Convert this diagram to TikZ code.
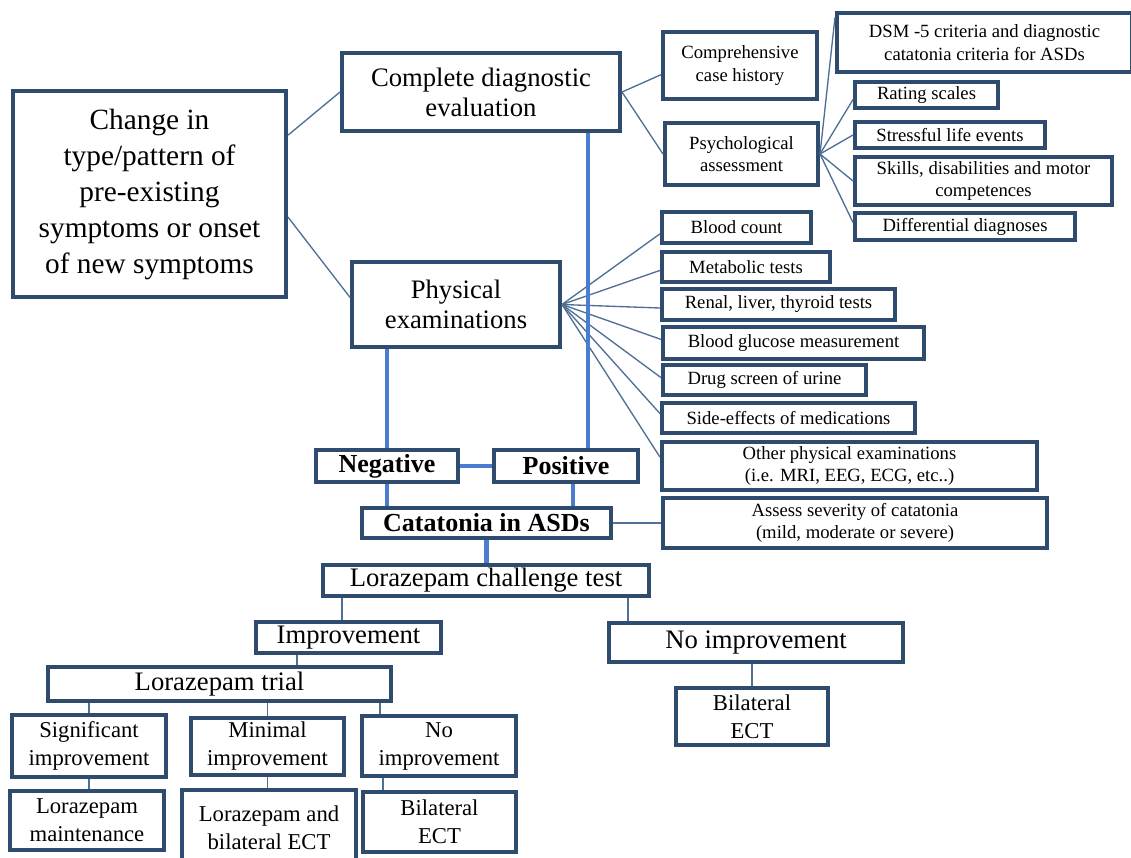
\documentclass[tikz,border=0pt]{standalone}
\usepackage{fontspec}
\setmainfont{Liberation Serif}
\usetikzlibrary{calc}
\definecolor{bord}{HTML}{2F4B6E}
\definecolor{thinc}{HTML}{4F6F96}
\definecolor{bblue}{HTML}{4A7DD0}
\newcommand{\mkbox}[6]{\node[#6, minimum width={(#4-#2)*0.75pt}, minimum height={(#5-#3)*0.75pt}] (#1) at ({(#2+#4)/2},{(#3+#5)/2})}
\newcommand{\lp}[2]{($(#1.north west)!#2!(#1.south west)$)}
\tikzset{
  box/.style={draw=bord, line width=3pt, fill=white, inner sep=0pt, align=center, text=black},
  lg/.style={box, font=\fontsize{22}{27}\selectfont},
  md/.style={box, font=\fontsize{20}{22.5}\selectfont},
  bd/.style={box, font=\fontsize{19.5}{22}\selectfont\bfseries},
  sm/.style={box, font=\fontsize{17}{21}\selectfont},
  xs/.style={box, font=\fontsize{14}{17}\selectfont},
  thinline/.style={draw=thinc, line width=1pt},
  blueline/.style={draw=bblue, line width=3.5pt}
}
\begin{document}
\begin{tikzpicture}[x=0.75pt, y=-0.75pt]
\useasboundingbox[fill=white] (0,0) rectangle (1131,857);
% nodes
\mkbox{left}{13}{91}{286}{297}{lg} {Change in\\type/pattern of\\pre-existing\\symptoms or onset\\of new symptoms};
\mkbox{complete}{342}{53}{620}{131}{md} {Complete diagnostic\\evaluation};
\mkbox{phys}{352}{262}{560}{347}{md} {Physical\\examinations};
\mkbox{comp}{663}{32}{817}{99}{xs} {Comprehensive\\case history};
\mkbox{psych}{665}{123}{818}{185}{xs} {Psychological\\assessment};
\mkbox{dsm}{837}{13}{1132}{72}{xs} {DSM -5 criteria and diagnostic\\catatonia criteria for ASDs};
\mkbox{rating}{855}{82}{998}{108}{xs} {Rating scales};
\mkbox{stress}{855}{122}{1045}{148}{xs} {Stressful life events};
\mkbox{skills}{855}{157}{1112}{205}{xs} {Skills, disabilities and motor\\competences};
\mkbox{diff}{855}{213}{1075}{240}{xs} {Differential diagnoses};
\mkbox{blood}{662}{212}{811}{243}{xs} {Blood count};
\mkbox{metab}{662}{252}{830}{282}{xs} {Metabolic tests};
\mkbox{renal}{662}{289}{895}{320}{xs} {Renal, liver, thyroid tests};
\mkbox{gluc}{663}{327}{924}{359}{xs} {Blood glucose measurement};
\mkbox{drug}{663}{365}{866}{395}{xs} {Drug screen of urine};
\mkbox{side}{662}{403}{915}{433}{xs} {Side-effects of medications};
\mkbox{other}{662}{442}{1037}{490}{xs} {Other physical examinations\\(i.e. MRI, EEG, ECG, etc..)};
\mkbox{assess}{663}{498}{1047}{548}{xs} {Assess severity of catatonia\\(mild, moderate or severe)};
\mkbox{neg}{316}{450}{458}{482}{bd} {Negative};
\mkbox{pos}{494}{450}{638}{482}{bd} {Positive};
\mkbox{cat}{362}{508}{611}{538}{bd} {Catatonia in ASDs};
\mkbox{chal}{323}{565}{649}{596}{md} {Lorazepam challenge test};
\mkbox{impr}{256}{622}{441}{653}{md} {Improvement};
\mkbox{noimp}{609}{623}{903}{662}{md} {No improvement};
\mkbox{trial}{48}{667}{391}{701}{md} {Lorazepam trial};
\mkbox{sig}{12}{715}{166}{777}{sm} {Significant\\improvement};
\mkbox{mini}{191}{718}{344}{775}{sm} {Minimal\\improvement};
\mkbox{noimpb}{362}{716}{516}{776}{sm} {No\\improvement};
\mkbox{maint}{10}{791}{164}{850}{sm} {Lorazepam\\maintenance};
\mkbox{lbe}{182}{790}{356}{866}{sm} {Lorazepam and\\bilateral ECT};
\mkbox{bect}{363}{792}{516}{852}{sm} {Bilateral\\ECT};
\mkbox{bectb}{676}{688}{828}{745}{sm} {Bilateral\\ECT};
% helper coordinates
\coordinate (xa) at (588,0);
\coordinate (xb) at (573,0);
\coordinate (xd) at (342,0);
\coordinate (xe) at (628,0);
\coordinate (xf) at (297,0);
\coordinate (xh) at (380,0);
\coordinate (xi) at (383,0);
% thin connectors
\draw[thinline] ($(left.north east)!0.22!(left.south east)$) -- (complete.west);
\draw[thinline] ($(left.north east)!0.61!(left.south east)$) -- \lp{phys}{0.42};
\draw[thinline] (complete.east) -- \lp{comp}{0.63};
\draw[thinline] (complete.east) -- (psych.west);
\draw[thinline] (psych.east) -- \lp{dsm}{0.1};
\draw[thinline] (psych.east) -- \lp{rating}{0.65};
\draw[thinline] (psych.east) -- (stress.west);
\draw[thinline] (psych.east) -- (skills.west);
\draw[thinline] (psych.east) -- \lp{diff}{0.37};
\draw[thinline] (phys.east) -- \lp{blood}{0.68};
\draw[thinline] (phys.east) -- \lp{metab}{0.6};
\draw[thinline] (phys.east) -- \lp{renal}{0.6};
\draw[thinline] (phys.east) -- \lp{gluc}{0.4};
\draw[thinline] (phys.east) -- \lp{drug}{0.43};
\draw[thinline] (phys.east) -- \lp{side}{0.37};
\draw[thinline] (phys.east) -- \lp{other}{0.33};
\draw[thinline] (cat.east) -- (cat.east -| assess.west);
\draw[thinline] (chal.south -| xd) -- (impr.north -| xd);
\draw[thinline] (chal.south -| xe) -- (noimp.north -| xe);
\draw[thinline] (impr.south -| xf) -- (trial.north -| xf);
\draw[thinline] (trial.south -| sig.north) -- (sig.north);
\draw[thinline] (trial.south -| mini.north) -- (mini.north);
\draw[thinline] (trial.south -| xh) -- (noimpb.north -| xh);
\draw[thinline] (sig.south) -- (sig.south |- maint.north);
\draw[thinline] (mini.south) -- (mini.south |- lbe.north);
\draw[thinline] (noimpb.south -| xi) -- (bect.north -| xi);
\draw[thinline] (noimp.south -| bectb.north) -- (bectb.north);
% thick blue connectors
\draw[blueline] (complete.south -| xa) -- (pos.north -| xa);
\draw[blueline] (neg.north |- phys.south) -- (neg.north);
\draw[blueline] (neg.east) -- (pos.west);
\draw[blueline] (neg.south) -- (neg.south |- cat.north);
\draw[blueline] (pos.south -| xb) -- (cat.north -| xb);
\draw[blueline] (cat.south) -- (cat.south |- chal.north);
\end{tikzpicture}
\end{document}
